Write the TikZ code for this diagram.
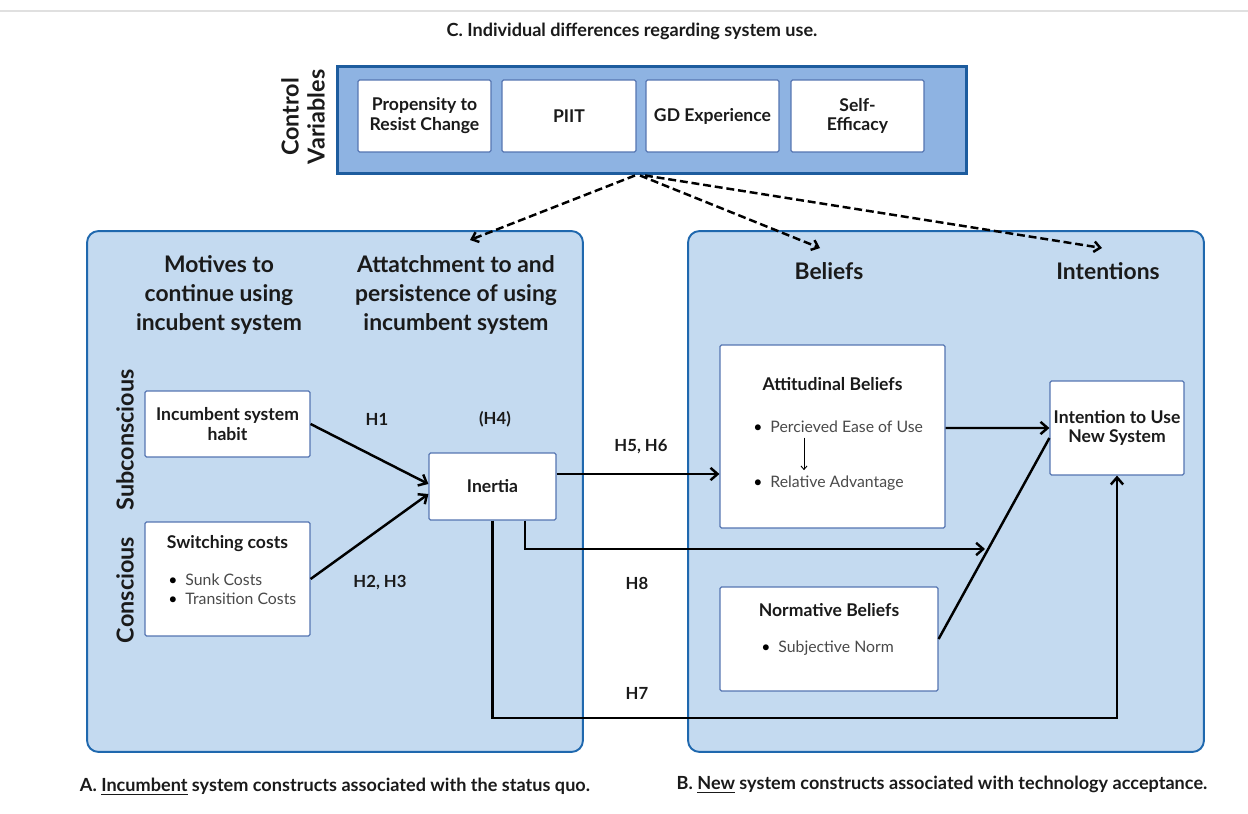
\documentclass[tikz,border=0pt]{standalone}
\usepackage{fontspec}
\setmainfont{Lato}
\usepackage{tikz}
\usetikzlibrary{arrows.meta,positioning,calc}
\definecolor{panelfill}{HTML}{C4DAF0}
\definecolor{paneledge}{HTML}{1F68AE}
\definecolor{ctrlfill}{HTML}{8EB3E2}
\definecolor{ctrledge}{HTML}{1D5C9E}
\definecolor{boxedge}{HTML}{5676B2}
\definecolor{bulletgray}{HTML}{4A4A4A}
\definecolor{darkink}{HTML}{1A1A1A}
\newcommand{\boxfont}{\fontsize{10}{11.3}\selectfont\bfseries}
\tikzset{
  panel/.style={draw=paneledge, fill=panelfill, rounded corners=6.5pt, line width=1.1pt, inner sep=0pt},
  ctrlpanel/.style={draw=ctrledge, fill=ctrlfill, line width=1.7pt, inner sep=0pt},
  whitebox/.style={draw=boxedge, fill=white, line width=0.7pt, rounded corners=0.8pt, align=center, inner sep=2pt, text=darkink, font=\boxfont},
  heading/.style={align=center, text=darkink, font=\fontsize{13}{16.4}\selectfont\bfseries},
  sidelabel/.style={rotate=90, align=center, text=darkink, font=\fontsize{13.3}{14.7}\selectfont\bfseries},
  caption/.style={text=darkink, font=\fontsize{10.3}{12}\selectfont\bfseries},
  hlabel/.style={text=darkink, font=\fontsize{9.5}{11}\selectfont\bfseries},
  boxtitle/.style={text=darkink, font=\boxfont},
  bulletitem/.style={anchor=west, inner sep=0pt, text=bulletgray, font=\fontsize{9}{11}\selectfont},
  effect/.style={-{Straight Barb[length=4pt,width=7pt]}, line width=1.4pt},
  ctrllink/.style={-{Straight Barb[length=3.5pt,width=6pt]}, line width=1.4pt, dash pattern=on 4.5pt off 2.2pt},
  thinlink/.style={-{Straight Barb[length=2pt,width=3.5pt]}, line width=0.5pt, shorten <=2.5pt, shorten >=3pt}
}

\begin{document}
\begin{tikzpicture}[x=0.02cm, y=-0.02cm]
  \useasboundingbox (0,0) rectangle (1248,814);
  \draw[black!12, line width=1.2pt] (0,11) -- (1248,11);

  % panels
  \node[panel, minimum width=9.92cm, minimum height=10.42cm] (incpanel) at (335,491.5) {};
  \node[panel, minimum width=10.32cm, minimum height=10.42cm] (newpanel) at (946,491.5) {};
  \node[ctrlpanel, minimum width=12.6cm, minimum height=2.16cm] (ctrl) at (652,120) {};

  \node[caption] (titleC) at (632,31) {C. Individual differences regarding system use.};
  \node[sidelabel] (ctrllabel) at (303,117) {Control\\Variables};

  % control variables
  \node[whitebox, minimum width=2.66cm, minimum height=1.44cm] (resist) at (424.5,116) {Propensity to\\Resist Change};
  \node[whitebox, minimum width=2.68cm, minimum height=1.44cm] (piit) at (569,116) {PIIT};
  \node[whitebox, minimum width=2.66cm, minimum height=1.44cm] (gdexp) at (712.5,116) {GD Experience};
  \node[whitebox, minimum width=2.66cm, minimum height=1.44cm] (selfeff) at (857.5,116) {Self-\\Efficacy};

  \coordinate (ctrlA) at (470,240);
  \coordinate (ctrlB) at (820,248);
  \coordinate (ctrlC) at (1102,248);
  \draw[ctrllink] ([xshift=-0.34cm]ctrl.south) -- (ctrlA);
  \draw[ctrllink] ([xshift=-0.24cm]ctrl.south) -- (ctrlB);
  \draw[ctrllink] ([xshift=-0.14cm]ctrl.south) -- (ctrlC);

  % headings
  \node[heading] (motives) at (219,295) {Motives to\\continue using\\incubent system};
  \node[heading] (attach) at (456,295) {Attatchment to and\\persistence of using\\incumbent system};
  \node[heading] (beliefs) at (829,271) {Beliefs};
  \node[heading] (intentions) at (1108,271) {Intentions};
  \node[sidelabel] (subcon) at (125,440) {Subconscious};
  \node[sidelabel] (con) at (125,590) {Conscious};

  % incumbent system constructs
  \node[whitebox, minimum width=3.3cm, minimum height=1.32cm] (habit) at (227.5,424) {Incumbent system\\habit};
  \node[whitebox, minimum width=3.3cm, minimum height=2.28cm] (switch) at (227.5,579) {};
  \node[boxtitle] (switchtitle) at (227.5,544) {Switching costs};
  \node[bulletitem] (sunk) at (168,580) {{\color{black}\textbullet}\hspace{4.5pt}Sunk Costs};
  \node[bulletitem] (trans) at (168,599) {{\color{black}\textbullet}\hspace{4.5pt}Transition Costs};
  \node[whitebox, minimum width=2.54cm, minimum height=1.34cm] (inertia) at (492.5,486.5) {Inertia};

  % new system constructs
  \node[whitebox, minimum width=4.5cm, minimum height=3.66cm] (attit) at (832.5,436.5) {};
  \node[boxtitle] (attittitle) at (832.5,384) {Attitudinal Beliefs};
  \node[bulletitem] (peou) at (753,427) {{\color{black}\textbullet}\hspace{4.5pt}Percieved Ease of Use};
  \node[bulletitem] (relad) at (753,483) {{\color{black}\textbullet}\hspace{4.5pt}Relative Advantage};
  \draw[thinlink] ([xshift=1.02cm]peou.south west) -- ([xshift=1.02cm]relad.north west);
  \node[whitebox, minimum width=4.36cm, minimum height=2.08cm] (norm) at (829,639) {};
  \node[boxtitle] (normtitle) at (829,610) {Normative Beliefs};
  \node[bulletitem] (subnorm) at (761,648) {{\color{black}\textbullet}\hspace{4.5pt}Subjective Norm};
  \node[whitebox, minimum width=2.68cm, minimum height=1.88cm] (intent) at (1117,428) {Intention to Use\\New System};

  % hypotheses
  \draw[effect] (habit.east) -- ([yshift=0.05cm]inertia.west);
  \draw[effect] (switch.east) -- ([yshift=-0.15cm]inertia.west);
  \draw[effect] ([yshift=0.25cm]inertia.east) -- ([yshift=0.25cm]inertia.east -| attit.west);
  \coordinate (h8end) at (985,549);
  \draw[effect] ([xshift=0.65cm]inertia.south) |- (h8end);
  \coordinate (h7turn) at (1117,718);
  \draw[effect] (inertia.south) |- (h7turn) -- (intent.south);
  \draw[effect] ([yshift=0.17cm]attit.east) -- (intent.west);
  \draw[line width=1.4pt] (norm.east) -- ([yshift=-0.2cm]intent.west);

  \node[hlabel] (h1) at (377,419) {H1};
  \node[hlabel] (h4) at (495,419) {(H4)};
  \node[hlabel] (h23) at (380,583) {H2, H3};
  \node[hlabel] (h56) at (641,447) {H5, H6};
  \node[hlabel] (h8) at (637,583) {H8};
  \node[hlabel] (h7) at (637,693) {H7};

  % captions
  \node[caption] (capA) at (335,787) {A. \underline{Incumbent} system constructs associated with the status quo.};
  \node[caption] (capB) at (942,785) {B. \underline{New} system constructs associated with technology acceptance.};
\end{tikzpicture}
\end{document}
